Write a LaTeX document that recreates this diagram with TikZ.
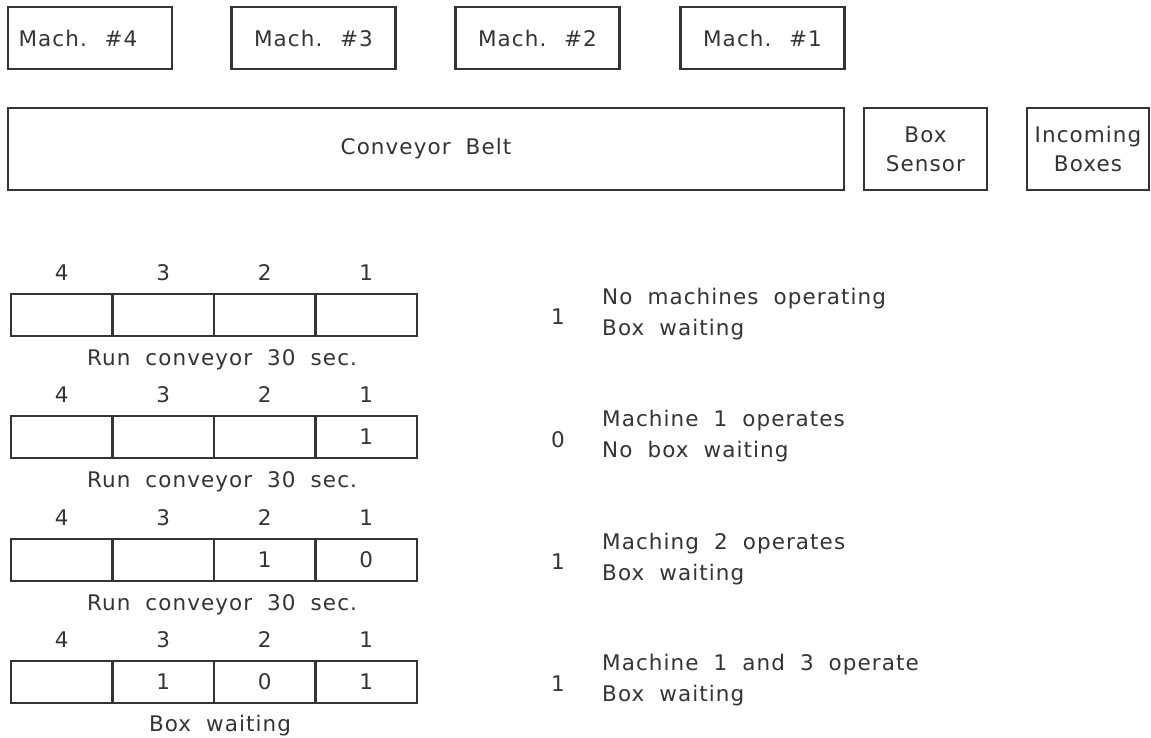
\documentclass[tikz,border=0pt]{standalone}
\usepackage{fontspec}
\setmainfont{DejaVu Sans}[LetterSpace=5, WordSpace=1.9]
\definecolor{ink}{HTML}{343434}

% one row of the four-slot shift register: row tag, centre y, contents of slots 4..1
\newcommand\regrow[6]{%
  \node[cell] (#1c4) at (61.75,#2) {#3};
  \node[cell] (#1c3) at (163.25,#2) {#4};
  \node[cell] (#1c2) at (264.75,#2) {#5};
  \node[cell] (#1c1) at (366.25,#2) {#6};
  \foreach \k in {1,...,4}{\node[anchor=base] (#1l\k) at ([yshift=12pt]#1c\k.north) {\k};}
}

\begin{document}
\begin{tikzpicture}[x=1pt, y=-1pt,
  every node/.style={text=ink, inner sep=0pt, font=\fontsize{21.5}{29}\selectfont},
  unit/.style={draw=ink, line width=2.3pt, rectangle, align=center},
  machine/.style={unit, minimum width=164pt, minimum height=62pt},
  station/.style={unit, minimum width=123pt, minimum height=82pt},
  cell/.style={draw=ink, line width=2.3pt, rectangle, minimum width=101.5pt, minimum height=42pt},
  caption/.style={anchor=base},
  note/.style={anchor=base west}]
\useasboundingbox (0,0) rectangle (1151,738);

% machines along the line
\node[machine] (m4) at (90,38) {\hspace*{-24pt}Mach. \#4};
\node[machine] (m3) at (313.5,38) {Mach. \#3};
\node[machine] (m2) at (537.5,38) {Mach. \#2};
\node[machine] (m1) at (762.5,38) {Mach. \#1};

% conveyor, sensor and feed
\node[unit, minimum width=836pt, minimum height=82pt] (belt) at (426,149) {Conveyor Belt};
\node[station] (sensor) at (925.5,149) {Box\\Sensor};
\node[station, minimum width=122pt] (feed) at (1088,149) {Incoming\\Boxes};

% register states
\regrow{a}{315}{}{}{}{}
\node[caption] (capa) at (222,365) {Run conveyor 30 sec.};
\regrow{b}{437}{}{}{}{1}
\node[caption] (capb) at (222,487) {Run conveyor 30 sec.};
\regrow{c}{560}{}{}{1}{0}
\node[caption] (capc) at (222,610) {Run conveyor 30 sec.};
\regrow{d}{682}{}{1}{0}{1}
\node[caption] (capd) at (220,731) {Box waiting};

% sensor reading and machine actions per state
\node[anchor=base] (sa) at (558,324) {1};
\node[note] (sa1) at (602,304) {No machines operating};
\node[note] (sa2) at (602,335) {Box waiting};

\node[anchor=base] (sb) at (558,447) {0};
\node[note] (sb1) at (602,426) {Machine 1 operates};
\node[note] (sb2) at (602,457) {No box waiting};

\node[anchor=base] (sc) at (558,569) {1};
\node[note] (sc1) at (602,549) {Maching 2 operates};
\node[note] (sc2) at (602,580) {Box waiting};

\node[anchor=base] (sd) at (558,691) {1};
\node[note] (sd1) at (602,670) {Machine 1 and 3 operate};
\node[note] (sd2) at (602,701) {Box waiting};
\end{tikzpicture}
\end{document}
